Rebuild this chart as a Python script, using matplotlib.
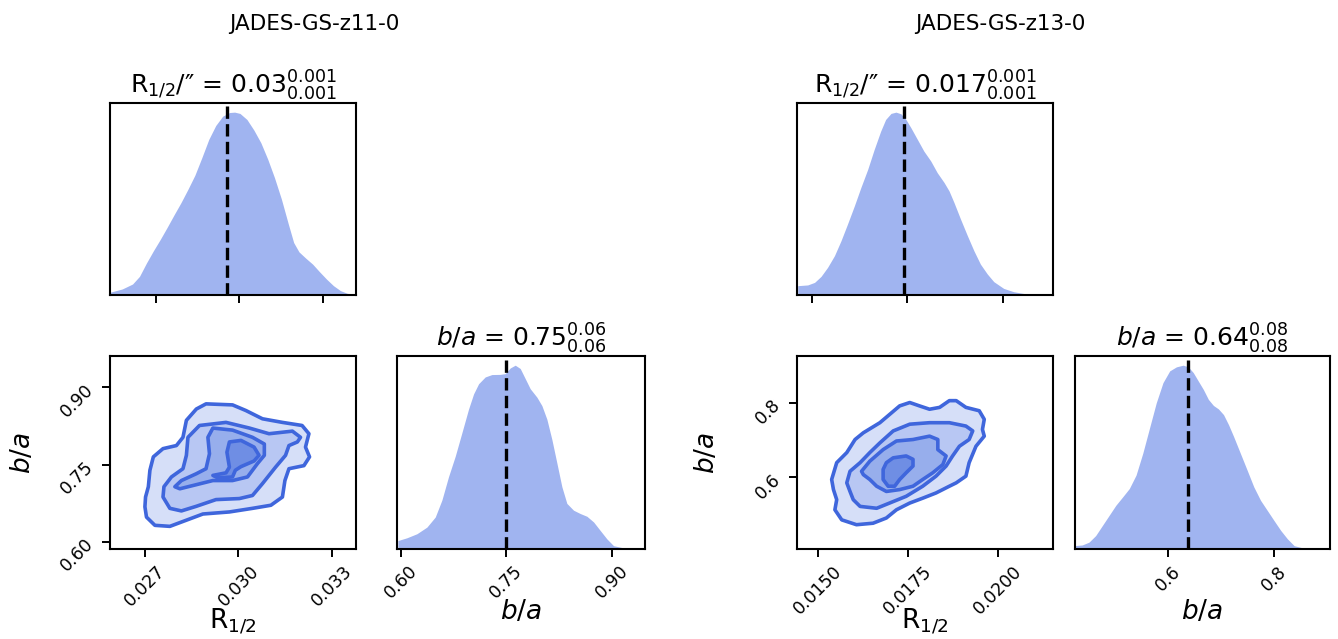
import matplotlib
matplotlib.use("Agg")
import matplotlib.pyplot as plt

# ---- JADES-GS-z11-0 ----
z11_r_x = [0.02535, 0.02579, 0.02616, 0.02641, 0.02666, 0.02691, 0.02716, 0.02740,
           0.02765, 0.02790, 0.02815, 0.02840, 0.02865, 0.02890, 0.02915, 0.02940,
           0.02965, 0.02983, 0.03002, 0.03027, 0.03052, 0.03077, 0.03102, 0.03126,
           0.03151, 0.03176, 0.03195, 0.03214, 0.03238, 0.03263, 0.03288, 0.03313,
           0.03338, 0.03363, 0.03388, 0.03419]
z11_r_y = [0.015, 0.033, 0.060, 0.102, 0.175, 0.242, 0.305, 0.369,
           0.438, 0.505, 0.578, 0.655, 0.751, 0.851, 0.927, 0.978,
           0.998, 1.0, 0.993, 0.960, 0.902, 0.833, 0.742, 0.642,
           0.524, 0.387, 0.287, 0.236, 0.202, 0.169, 0.127, 0.087,
           0.051, 0.024, 0.009, 0.004]
z11_q_x = [0.5960, 0.6088, 0.6230, 0.6372, 0.6491, 0.6585, 0.6680, 0.6775, 0.6870,
           0.6964, 0.7036, 0.7107, 0.7201, 0.7296, 0.7415, 0.7486, 0.7557, 0.7628,
           0.7699, 0.7770, 0.7841, 0.7936, 0.8007, 0.8078, 0.8149, 0.8220, 0.8291,
           0.8362, 0.8457, 0.8552, 0.8647, 0.8742, 0.8836, 0.8931, 0.9026, 0.9168,
           0.9476]
z11_q_y = [0.046, 0.061, 0.083, 0.119, 0.174, 0.266, 0.394, 0.505, 0.633,
           0.761, 0.844, 0.899, 0.936, 0.949, 0.950, 0.954, 0.985, 1.0,
           0.982, 0.927, 0.872, 0.826, 0.780, 0.706, 0.596, 0.468, 0.339,
           0.248, 0.211, 0.193, 0.178, 0.147, 0.101, 0.055, 0.018, 0.006,
           0.0]
# 2D credible contours (outer -> inner), R_1/2 vs b/a
z11_c1_x = [0.02700, 0.02702, 0.02711, 0.02716, 0.02727, 0.02758, 0.02801, 0.02822,
            0.02833, 0.02865, 0.02896, 0.02981, 0.03024, 0.03077, 0.03141, 0.03204,
            0.03226, 0.03215, 0.03228, 0.03210, 0.03162, 0.03149, 0.03141, 0.03104,
            0.03045, 0.02971, 0.02886, 0.02833, 0.02780, 0.02732, 0.02705]
z11_c1_y = [0.668, 0.687, 0.707, 0.739, 0.765, 0.781, 0.787, 0.803,
            0.836, 0.858, 0.868, 0.866, 0.855, 0.839, 0.832, 0.826,
            0.810, 0.784, 0.765, 0.748, 0.742, 0.719, 0.687, 0.671,
            0.665, 0.658, 0.654, 0.642, 0.630, 0.632, 0.648]
z11_c2_x = [0.02758, 0.02761, 0.02785, 0.02822, 0.02833, 0.02838, 0.02875, 0.02960,
            0.03035, 0.03098, 0.03173, 0.03199, 0.03189, 0.03162, 0.03151, 0.03119,
            0.03077, 0.03045, 0.03003, 0.02928, 0.02865, 0.02817, 0.02780]
z11_c2_y = [0.687, 0.707, 0.726, 0.742, 0.768, 0.803, 0.826, 0.832,
            0.821, 0.810, 0.815, 0.803, 0.794, 0.787, 0.768, 0.745,
            0.713, 0.690, 0.684, 0.682, 0.669, 0.660, 0.665]
z11_c3_x = [0.02796, 0.02817, 0.02864, 0.02896, 0.02907, 0.02902, 0.02918, 0.02981,
            0.03045, 0.03083, 0.03083, 0.03061, 0.03029, 0.02981, 0.02918, 0.02865,
            0.02812]
z11_c3_y = [0.707, 0.719, 0.732, 0.742, 0.771, 0.803, 0.821, 0.817,
            0.803, 0.790, 0.768, 0.752, 0.726, 0.719, 0.719, 0.711,
            0.703]
z11_c4_x = [0.02918, 0.02960, 0.02971, 0.02963, 0.02971, 0.03008, 0.03050, 0.03066,
            0.03050, 0.03008, 0.02990, 0.02981, 0.02934]
z11_c4_y = [0.729, 0.734, 0.745, 0.774, 0.794, 0.797, 0.784, 0.768,
            0.757, 0.746, 0.739, 0.726, 0.724]
z11_r_med, z11_q_med = 0.02957, 0.75

# ---- JADES-GS-z13-0 ----
z13_r_x = [0.01463, 0.01489, 0.01507, 0.01524, 0.01541, 0.01559, 0.01576, 0.01593,
           0.01611, 0.01628, 0.01646, 0.01663, 0.01680, 0.01693, 0.01707, 0.01720,
           0.01733, 0.01746, 0.01759, 0.01776, 0.01793, 0.01811, 0.01828, 0.01846,
           0.01859, 0.01872, 0.01889, 0.01907, 0.01924, 0.01941, 0.01959, 0.01976,
           0.02002, 0.02028, 0.02063, 0.02098, 0.02132]
z13_r_y = [0.051, 0.055, 0.069, 0.102, 0.151, 0.215, 0.296, 0.387,
           0.487, 0.587, 0.687, 0.796, 0.896, 0.960, 0.993, 1.0,
           0.991, 0.960, 0.915, 0.851, 0.787, 0.733, 0.669, 0.615,
           0.569, 0.505, 0.415, 0.324, 0.242, 0.169, 0.115, 0.073,
           0.036, 0.018, 0.005, 0.0, 0.0]
z13_q_x = [0.4222, 0.4381, 0.4508, 0.4635, 0.4762, 0.4889, 0.5016, 0.5143, 0.5270,
           0.5397, 0.5524, 0.5651, 0.5778, 0.5905, 0.6032, 0.6159, 0.6286, 0.6381,
           0.6476, 0.6571, 0.6667, 0.6762, 0.6857, 0.6952, 0.7048, 0.7143, 0.7238,
           0.7365, 0.7492, 0.7619, 0.7746, 0.7873, 0.8000, 0.8127, 0.8254, 0.8381,
           0.8571, 0.8825, 0.9111]
z13_q_y = [0.018, 0.022, 0.037, 0.073, 0.128, 0.183, 0.238, 0.283, 0.329,
           0.402, 0.521, 0.658, 0.795, 0.905, 0.969, 0.991, 1.0, 0.991,
           0.960, 0.914, 0.868, 0.814, 0.781, 0.762, 0.731, 0.676, 0.612,
           0.521, 0.430, 0.338, 0.265, 0.210, 0.155, 0.101, 0.055, 0.018,
           0.004, 0.0, 0.0]
z13_c1_x = [0.01538, 0.01552, 0.01580, 0.01603, 0.01626, 0.01672, 0.01727, 0.01755,
            0.01782, 0.01810, 0.01838, 0.01865, 0.01884, 0.01911, 0.01948, 0.01962,
            0.01957, 0.01962, 0.01939, 0.01920, 0.01911, 0.01884, 0.01865, 0.01828,
            0.01791, 0.01755, 0.01718, 0.01690, 0.01653, 0.01607, 0.01566, 0.01547,
            0.01552, 0.01543]
z13_c1_y = [0.594, 0.639, 0.666, 0.701, 0.719, 0.746, 0.791, 0.800,
            0.791, 0.782, 0.787, 0.805, 0.805, 0.787, 0.778, 0.755,
            0.728, 0.710, 0.683, 0.639, 0.603, 0.585, 0.576, 0.558,
            0.544, 0.531, 0.513, 0.491, 0.477, 0.473, 0.486, 0.513,
            0.540, 0.567]
z13_c2_x = [0.01580, 0.01589, 0.01617, 0.01644, 0.01672, 0.01709, 0.01755, 0.01810,
            0.01865, 0.01911, 0.01930, 0.01920, 0.01893, 0.01874, 0.01856, 0.01828,
            0.01791, 0.01745, 0.01699, 0.01663, 0.01617, 0.01598, 0.01589]
z13_c2_y = [0.585, 0.616, 0.639, 0.666, 0.692, 0.724, 0.742, 0.746,
            0.746, 0.737, 0.724, 0.701, 0.683, 0.657, 0.630, 0.603,
            0.576, 0.549, 0.531, 0.517, 0.522, 0.540, 0.562]
z13_c3_x = [0.01621, 0.01644, 0.01681, 0.01718, 0.01764, 0.01810, 0.01833, 0.01833,
            0.01856, 0.01847, 0.01819, 0.01791, 0.01764, 0.01727, 0.01690, 0.01663,
            0.01644, 0.01626]
z13_c3_y = [0.616, 0.643, 0.674, 0.697, 0.701, 0.710, 0.701, 0.674,
            0.657, 0.634, 0.612, 0.594, 0.576, 0.567, 0.562, 0.576,
            0.594, 0.607]
z13_c4_x = [0.01681, 0.01690, 0.01709, 0.01745, 0.01764, 0.01764, 0.01745, 0.01727,
            0.01713, 0.01695, 0.01681]
z13_c4_y = [0.621, 0.639, 0.652, 0.657, 0.648, 0.630, 0.612, 0.594,
            0.576, 0.576, 0.594]
z13_r_med, z13_q_med = 0.01740, 0.6377

fill_1d = "#a0b4f0"
line_c = "#3f66dc"
level_fills = ["#d6dff8", "#b8c7f3", "#97aeec", "#6f8ee4"]

fig = plt.figure(figsize=(13.38, 6.39), dpi=100)
W, H = 1338.0, 639.0


def add_ax(x0, y0, x1, y1):
    return fig.add_axes([x0 / W, 1 - y1 / H, (x1 - x0) / W, (y1 - y0) / H])


def style(ax):
    for s in ax.spines.values():
        s.set_linewidth(1.5)
    ax.tick_params(width=1.4, length=6, labelsize=12.5)


def draw_corner(cols, r, q, contours, meds, lims, ticks, titles):
    (c0, c1), (c2, c3) = cols
    ax_r = add_ax(c0, 103, c1, 295)
    ax_2d = add_ax(c0, 356, c1, 549)
    ax_q = add_ax(c2, 356, c3, 549)
    for ax in (ax_r, ax_2d, ax_q):
        style(ax)

    # 1D R_1/2
    ax_r.fill_between(r[0], 0, r[1], color=fill_1d, lw=0)
    ax_r.axvline(meds[0], color="k", ls="--", lw=2.4)
    ax_r.set_xlim(lims[0])
    ax_r.set_ylim(0, 1.05)
    ax_r.set_xticks(ticks[0])
    ax_r.set_xticklabels([])
    ax_r.set_yticks([])
    ax_r.set_title(titles[0], fontsize=18, pad=7)

    # 2D contours
    for (cx, cy), fc in zip(contours, level_fills):
        ax_2d.fill(cx, cy, facecolor=fc, edgecolor=line_c, lw=2.6, joinstyle="round")
    ax_2d.set_xlim(lims[1])
    ax_2d.set_ylim(lims[2])
    ax_2d.set_xticks(ticks[1])
    ax_2d.set_yticks(ticks[2])
    ax_2d.set_xticklabels(ticks[3], rotation=45, fontsize=12.5)
    ax_2d.set_yticklabels(ticks[4], rotation=45, fontsize=12.5)
    ax_2d.set_xlabel(r"R$_{1/2}$", fontsize=19)
    ax_2d.set_ylabel(r"$b/a$", fontsize=19)
    ax_2d.xaxis.set_label_coords(0.5, -0.3)
    ax_2d.yaxis.set_label_coords(-0.3, 0.5)

    # 1D b/a
    ax_q.fill_between(q[0], 0, q[1], color=fill_1d, lw=0)
    ax_q.axvline(meds[1], color="k", ls="--", lw=2.4)
    ax_q.set_xlim(lims[3])
    ax_q.set_ylim(0, 1.05)
    ax_q.set_xticks(ticks[2])
    ax_q.set_xticklabels(ticks[4], rotation=45, fontsize=12.5)
    ax_q.set_yticks([])
    ax_q.set_xlabel(r"$b/a$", fontsize=19)
    ax_q.xaxis.set_label_coords(0.5, -0.26)
    ax_q.set_title(titles[1], fontsize=18, pad=7)


draw_corner(
    ((110, 356), (397, 645)),
    (z11_r_x, z11_r_y), (z11_q_x, z11_q_y),
    [(z11_c1_x, z11_c1_y), (z11_c2_x, z11_c2_y), (z11_c3_x, z11_c3_y), (z11_c4_x, z11_c4_y)],
    (z11_r_med, z11_q_med),
    [(0.02535, 0.03419), (0.02588, 0.03377), (0.586, 0.961), (0.5947, 0.9473)],
    [[0.027, 0.030, 0.033], [0.027, 0.030, 0.033], [0.60, 0.75, 0.90],
     ["0.027", "0.030", "0.033"], ["0.60", "0.75", "0.90"]],
    [r"R$_{1/2}$/″ = 0.03$^{0.001}_{0.001}$", r"$b/a$ = 0.75$^{0.06}_{0.06}$"],
)

draw_corner(
    ((797, 1053), (1075, 1330)),
    (z13_r_x, z13_r_y), (z13_q_x, z13_q_y),
    [(z13_c1_x, z13_c1_y), (z13_c2_x, z13_c2_y), (z13_c3_x, z13_c3_y), (z13_c4_x, z13_c4_y)],
    (z13_r_med, z13_q_med),
    [(0.01461, 0.02131), (0.014417, 0.02153), (0.408, 0.9245), (0.4245, 0.9057)],
    [[0.015, 0.0175, 0.020], [0.015, 0.0175, 0.020], [0.6, 0.8],
     ["0.0150", "0.0175", "0.0200"], ["0.6", "0.8"]],
    [r"R$_{1/2}$/″ = 0.017$^{0.001}_{0.001}$", r"$b/a$ = 0.64$^{0.08}_{0.08}$"],
)

fig.text(314 / W, 1 - 24 / H, "JADES-GS-z11-0", ha="center", va="center", fontsize=15.5)
fig.text(1000 / W, 1 - 24 / H, "JADES-GS-z13-0", ha="center", va="center", fontsize=15.5)

fig.savefig("out.png", dpi=100, facecolor="white")
